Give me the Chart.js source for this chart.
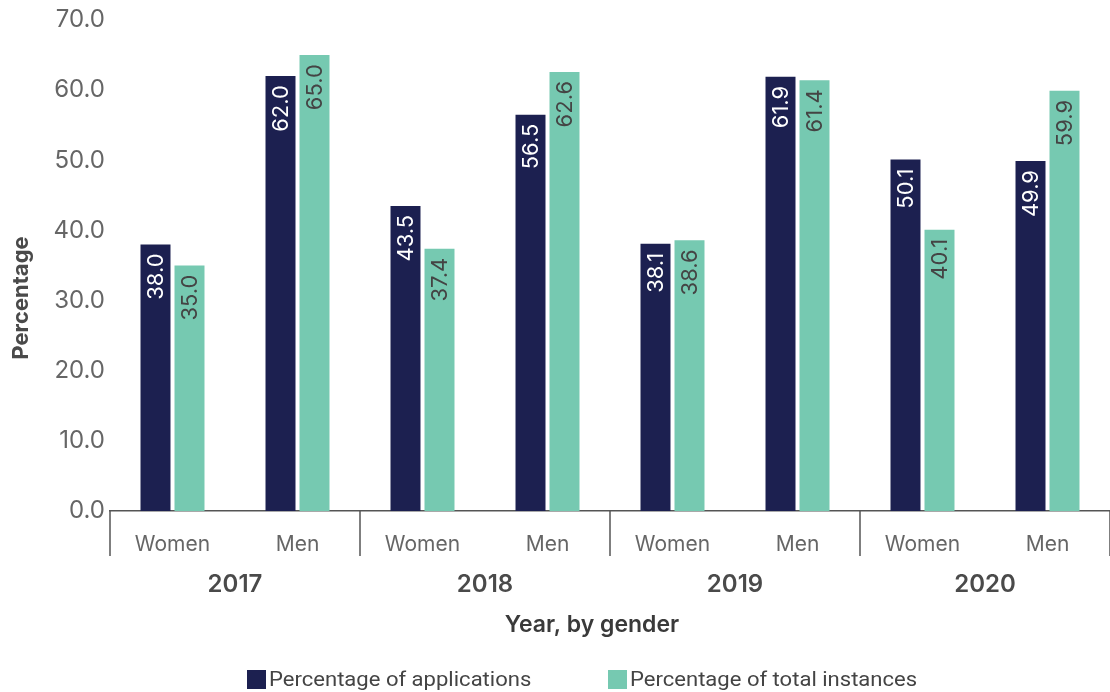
<!DOCTYPE html>
<html>
<head>
<meta charset="utf-8">
<script src="https://cdn.jsdelivr.net/npm/chart.js@4.4.1/dist/chart.umd.min.js"></script>
<style>
html,body{margin:0;padding:0;background:#fff;}
#wrap{width:1110px;height:692px;position:relative;}
</style>
</head>
<body>
<div id="wrap"><canvas id="c"></canvas></div>
<script>
const categories = ["Women","Men","Women","Men","Women","Men","Women","Men"];
const years = ["2017","2018","2019","2020"];
const applications = [38.0, 62.0, 43.5, 56.5, 38.1, 61.9, 50.1, 49.9];
const instances = [35.0, 65.0, 37.4, 62.6, 38.6, 61.4, 40.1, 59.9];
const yTicks = [0, 10, 20, 30, 40, 50, 60, 70];
const seriesNames = ["Percentage of applications", "Percentage of total instances"];
const xTitle = "Year, by gender";
const yTitle = "Percentage";

const NAVY = "#1c2050";
const TEAL = "#76c9b1";
const FONT = "Inter, 'DejaVu Sans', sans-serif";

const barLabels = {
  id: 'barLabels',
  afterDatasetsDraw(chart) {
    const ctx = chart.ctx;
    chart.data.datasets.forEach((ds, di) => {
      const meta = chart.getDatasetMeta(di);
      meta.data.forEach((el, i) => {
        ctx.save();
        ctx.translate(el.x, el.y + 9);
        ctx.rotate(-Math.PI / 2);
        ctx.font = "400 22px " + FONT;
        ctx.fillStyle = di === 0 ? "#ffffff" : "#444444";
        ctx.textAlign = "right";
        ctx.textBaseline = "middle";
        ctx.fillText(ds.data[i].toFixed(1), 0, 1);
        ctx.restore();
      });
    });
  }
};

const groups = {
  id: 'groups',
  afterDraw(chart) {
    const ctx = chart.ctx;
    const xs = chart.scales.x;
    const yBase = chart.scales.y.getPixelForValue(0);
    const step = xs.getPixelForValue(1) - xs.getPixelForValue(0);
    ctx.save();
    ctx.strokeStyle = "#555555";
    ctx.lineWidth = 1.5;
    for (let g = 0; g <= years.length; g++) {
      const x = xs.getPixelForValue(g * 2) - step / 2;
      ctx.beginPath();
      ctx.moveTo(x, yBase);
      ctx.lineTo(x, yBase + 45);
      ctx.stroke();
    }
    ctx.font = "600 24px " + FONT;
    ctx.fillStyle = "#4a4a4a";
    ctx.textAlign = "center";
    ctx.textBaseline = "middle";
    years.forEach((yr, g) => {
      const x = (xs.getPixelForValue(g * 2) + xs.getPixelForValue(g * 2 + 1)) / 2;
      ctx.fillText(yr, x, 585);
    });
    // axis titles
    ctx.font = "600 23px " + FONT;
    ctx.fillStyle = "#3a3a3a";
    ctx.fillText(xTitle, 592, 625);
    ctx.save();
    ctx.translate(21, 298);
    ctx.rotate(-Math.PI / 2);
    ctx.font = "700 22px " + FONT;
    ctx.fillStyle = "#4a4a4a";
    ctx.fillText(yTitle, 0, 0);
    ctx.restore();
    // legend
    ctx.font = "400 21px Roboto, sans-serif";
    const colors = [NAVY, TEAL];
    const xStart = [247, 608];
    ctx.textAlign = "left";
    seriesNames.forEach((n, i) => {
      ctx.fillStyle = colors[i];
      ctx.fillRect(xStart[i], 670, 19, 19);
      ctx.fillStyle = "#444444";
      ctx.save();
      ctx.translate(xStart[i] + 22, 681);
      ctx.scale(1.05, 1);
      ctx.fillText(n, 0, 0);
      ctx.restore();
    });
    ctx.restore();
  }
};

new Chart(document.getElementById('c'), {
  type: 'bar',
  data: {
    labels: categories,
    datasets: [
      { label: seriesNames[0], data: applications, backgroundColor: NAVY, borderWidth: 0 },
      { label: seriesNames[1], data: instances, backgroundColor: TEAL, borderWidth: 0 }
    ]
  },
  options: {
    responsive: true,
    maintainAspectRatio: false,
    animation: false,
    layout: { padding: { top: 20, right: 0, left: 0, bottom: 0 } },
    datasets: { bar: { categoryPercentage: 0.544, barPercentage: 0.882 } },
    plugins: {
      legend: { display: false },
      tooltip: { enabled: false }
    },
    scales: {
      x: {
        grid: { display: false, drawTicks: false },
        border: { display: true, color: "#555555", width: 1.5 },
        ticks: { color: "#666666", font: { family: FONT, size: 21 }, padding: 21, maxRotation: 0 },
        title: { display: false },
        afterFit(s) { s.height = 181; }
      },
      y: {
        min: 0, max: 70,
        grid: { display: false, drawTicks: false },
        border: { display: false },
        afterBuildTicks(s) { s.ticks = yTicks.map(v => ({ value: v })); },
        ticks: { color: "#666666", font: { family: FONT, size: 24 }, padding: 5,
                 callback: v => Number(v).toFixed(1) },
        title: { display: false },
        afterFit(s) { s.width = 110; }
      }
    }
  },
  plugins: [barLabels, groups]
});
</script>
</body>
</html>
